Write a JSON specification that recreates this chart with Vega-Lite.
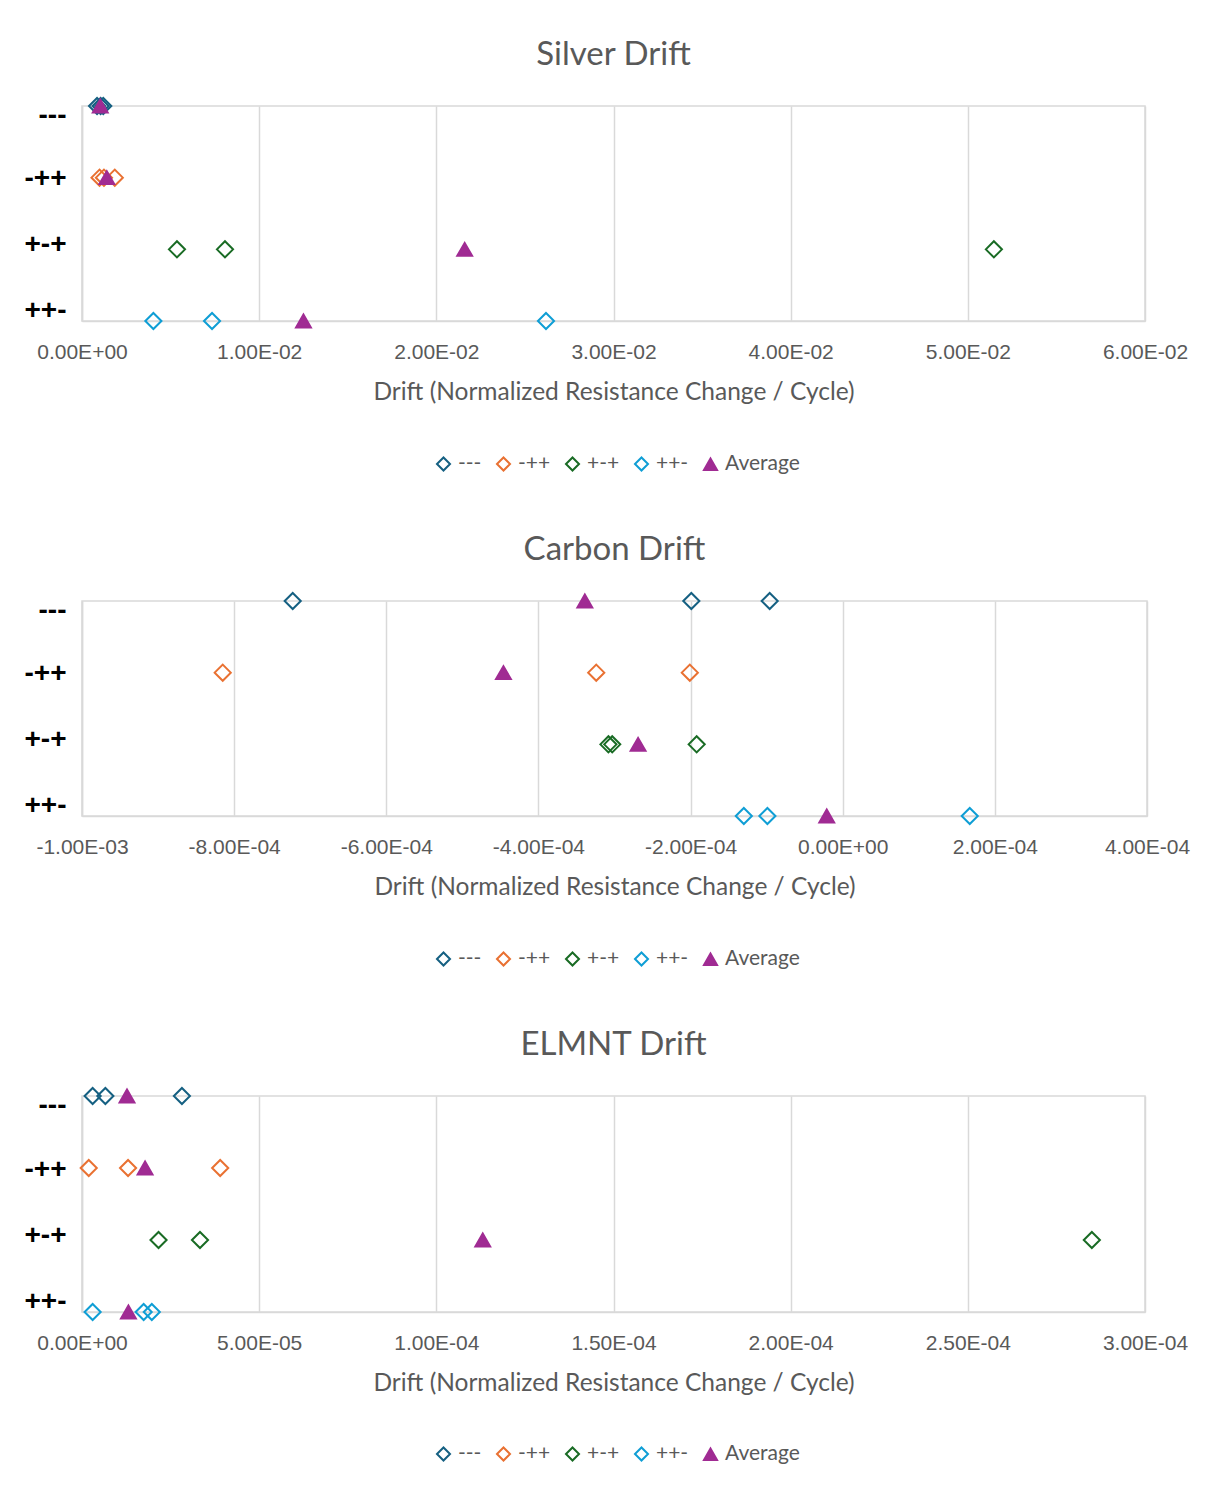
{
  "$schema": "https://vega.github.io/schema/vega-lite/v6.json",
  "background": "white",
  "padding": {"left": 23, "top": 38, "right": 10, "bottom": 10},
  "datasets": {
    "d": [
      {"p": "Silver", "s": "---", "r": "---", "v": 0.00085},
      {"p": "Silver", "s": "---", "r": "---", "v": 0.00105},
      {"p": "Silver", "s": "---", "r": "---", "v": 0.0012},
      {"p": "Silver", "s": "-++", "r": "-++", "v": 0.00099},
      {"p": "Silver", "s": "-++", "r": "-++", "v": 0.00124},
      {"p": "Silver", "s": "-++", "r": "-++", "v": 0.00185},
      {"p": "Silver", "s": "+-+", "r": "+-+", "v": 0.00536},
      {"p": "Silver", "s": "+-+", "r": "+-+", "v": 0.00807},
      {"p": "Silver", "s": "+-+", "r": "+-+", "v": 0.05147},
      {"p": "Silver", "s": "++-", "r": "++-", "v": 0.00403},
      {"p": "Silver", "s": "++-", "r": "++-", "v": 0.00734},
      {"p": "Silver", "s": "++-", "r": "++-", "v": 0.02619},
      {"p": "Silver", "s": "Average", "r": "---", "v": 0.00103},
      {"p": "Silver", "s": "Average", "r": "-++", "v": 0.0014},
      {"p": "Silver", "s": "Average", "r": "+-+", "v": 0.0216},
      {"p": "Silver", "s": "Average", "r": "++-", "v": 0.0125},
      {"p": "Carbon", "s": "---", "r": "---", "v": -0.000723},
      {"p": "Carbon", "s": "---", "r": "---", "v": -0.000199},
      {"p": "Carbon", "s": "---", "r": "---", "v": -0.000096},
      {"p": "Carbon", "s": "-++", "r": "-++", "v": -0.000815},
      {"p": "Carbon", "s": "-++", "r": "-++", "v": -0.000324},
      {"p": "Carbon", "s": "-++", "r": "-++", "v": -0.000201},
      {"p": "Carbon", "s": "+-+", "r": "+-+", "v": -0.000308},
      {"p": "Carbon", "s": "+-+", "r": "+-+", "v": -0.000303},
      {"p": "Carbon", "s": "+-+", "r": "+-+", "v": -0.000192},
      {"p": "Carbon", "s": "++-", "r": "++-", "v": -0.00013},
      {"p": "Carbon", "s": "++-", "r": "++-", "v": -0.000099},
      {"p": "Carbon", "s": "++-", "r": "++-", "v": 0.000167},
      {"p": "Carbon", "s": "Average", "r": "---", "v": -0.000339},
      {"p": "Carbon", "s": "Average", "r": "-++", "v": -0.000446},
      {"p": "Carbon", "s": "Average", "r": "+-+", "v": -0.000269},
      {"p": "Carbon", "s": "Average", "r": "++-", "v": -0.000021},
      {"p": "ELMNT", "s": "---", "r": "---", "v": 0.000003},
      {"p": "ELMNT", "s": "---", "r": "---", "v": 0.0000066},
      {"p": "ELMNT", "s": "---", "r": "---", "v": 0.0000282},
      {"p": "ELMNT", "s": "-++", "r": "-++", "v": 0.0000019},
      {"p": "ELMNT", "s": "-++", "r": "-++", "v": 0.000013},
      {"p": "ELMNT", "s": "-++", "r": "-++", "v": 0.000039},
      {"p": "ELMNT", "s": "+-+", "r": "+-+", "v": 0.0000216},
      {"p": "ELMNT", "s": "+-+", "r": "+-+", "v": 0.0000333},
      {"p": "ELMNT", "s": "+-+", "r": "+-+", "v": 0.000285},
      {"p": "ELMNT", "s": "++-", "r": "++-", "v": 0.000003},
      {"p": "ELMNT", "s": "++-", "r": "++-", "v": 0.0000174},
      {"p": "ELMNT", "s": "++-", "r": "++-", "v": 0.0000197},
      {"p": "ELMNT", "s": "Average", "r": "---", "v": 0.0000127},
      {"p": "ELMNT", "s": "Average", "r": "-++", "v": 0.0000178},
      {"p": "ELMNT", "s": "Average", "r": "+-+", "v": 0.0001131},
      {"p": "ELMNT", "s": "Average", "r": "++-", "v": 0.0000131}
    ]
  },
  "config": {
    "view": {"stroke": "#D9D9D9", "strokeWidth": 1.5},
    "title": {"font": "Lato", "fontSize": 33, "fontWeight": "normal", "color": "#595959", "anchor": "middle", "offset": 22},
    "axis": {
      "gridColor": "#D9D9D9", "gridWidth": 1.5, "domainColor": "#D9D9D9", "domainWidth": 1.5, "ticks": false,
      "labelColor": "#595959", "labelFont": "Liberation Sans", "labelFontSize": 21, "labelFlush": false, "labelOverlap": false, "labelBound": false,
      "titleFont": "Lato", "titleFontSize": 24.5, "titleFontWeight": "normal", "titleColor": "#595959"
    },
    "legend": {
      "orient": "none", "legendX": 351, "legendY": 347, "direction": "horizontal", "title": null,
      "labelFont": "Lato", "labelFontSize": 21, "labelColor": "#595959", "symbolSize": 170, "symbolStrokeWidth": 2,
      "columnPadding": 10, "labelOffset": 4, "padding": 0
    }
  },
  "spacing": 280,
  "bounds": "flush",
  "resolve": {"scale": {"x": "independent"}, "legend": {"stroke": "independent", "fill": "independent", "shape": "independent"}},
  "vconcat": [
    {
      "title": "Silver Drift",
      "data": {"name": "d"},
      "transform": [{"filter": "datum.p === 'Silver'"}],
      "width": 1063, "height": 215,
      "mark": {"type": "point", "strokeWidth": 2, "opacity": 1},
      "encoding": {
        "x": {"field": "v", "type": "quantitative", "scale": {"domain": [0, 0.06], "nice": false, "zero": false},
          "axis": {"values": [0, 0.01, 0.02, 0.03, 0.04, 0.05, 0.06], "title": "Drift (Normalized Resistance Change / Cycle)", "labelPadding": 20, "titlePadding": 18,
            "labelExpr": "(datum.value < 0 ? '-' : '') + replace(replace(format(abs(datum.value), '.2e'), 'e-', 'E-0'), 'e+', 'E+0')"}},
        "y": {"field": "r", "type": "nominal", "scale": {"type": "point", "padding": 0, "domain": ["---", "-++", "+-+", "++-"]},
          "axis": {"title": null, "labelColor": "black", "labelFontWeight": "bold", "labelFontSize": 28, "labelPadding": 16,
            "labelOffset": {"condition": [{"test": "datum.value === '---'", "value": 9}, {"test": "datum.value === '-++'", "value": 1}, {"test": "datum.value === '+-+'", "value": -5}], "value": -11}}},
        "stroke": {"field": "s", "type": "nominal", "scale": {"domain": ["---", "-++", "+-+", "++-", "Average"], "range": ["#156082", "#E97132", "#196B24", "#0F9ED5", "#A02B93"]}},
        "fill": {"field": "s", "type": "nominal", "scale": {"domain": ["---", "-++", "+-+", "++-", "Average"], "range": ["transparent", "transparent", "transparent", "transparent", "#A02B93"]}},
        "shape": {"field": "s", "type": "nominal", "scale": {"domain": ["---", "-++", "+-+", "++-", "Average"], "range": ["diamond", "diamond", "diamond", "diamond", "triangle-up"]}},
        "size": {"condition": {"test": "datum.s === 'Average'", "value": 220}, "value": 260}
      }
    },
    {
      "title": "Carbon Drift",
      "data": {"name": "d"},
      "transform": [{"filter": "datum.p === 'Carbon'"}],
      "width": 1065, "height": 215,
      "mark": {"type": "point", "strokeWidth": 2, "opacity": 1},
      "encoding": {
        "x": {"field": "v", "type": "quantitative", "scale": {"domain": [-0.001, 0.0004], "nice": false, "zero": false},
          "axis": {"values": [-0.001, -0.0008, -0.0006, -0.0004, -0.0002, 0, 0.0002, 0.0004], "title": "Drift (Normalized Resistance Change / Cycle)", "labelPadding": 20, "titlePadding": 18,
            "labelExpr": "(datum.value < 0 ? '-' : '') + replace(replace(format(abs(datum.value), '.2e'), 'e-', 'E-0'), 'e+', 'E+0')"}},
        "y": {"field": "r", "type": "nominal", "scale": {"type": "point", "padding": 0, "domain": ["---", "-++", "+-+", "++-"]},
          "axis": {"title": null, "labelColor": "black", "labelFontWeight": "bold", "labelFontSize": 28, "labelPadding": 16,
            "labelOffset": {"condition": [{"test": "datum.value === '---'", "value": 9}, {"test": "datum.value === '-++'", "value": 1}, {"test": "datum.value === '+-+'", "value": -5}], "value": -11}}},
        "stroke": {"field": "s", "type": "nominal", "scale": {"domain": ["---", "-++", "+-+", "++-", "Average"], "range": ["#156082", "#E97132", "#196B24", "#0F9ED5", "#A02B93"]}},
        "fill": {"field": "s", "type": "nominal", "scale": {"domain": ["---", "-++", "+-+", "++-", "Average"], "range": ["transparent", "transparent", "transparent", "transparent", "#A02B93"]}},
        "shape": {"field": "s", "type": "nominal", "scale": {"domain": ["---", "-++", "+-+", "++-", "Average"], "range": ["diamond", "diamond", "diamond", "diamond", "triangle-up"]}},
        "size": {"condition": {"test": "datum.s === 'Average'", "value": 220}, "value": 260}
      }
    },
    {
      "title": "ELMNT Drift",
      "data": {"name": "d"},
      "transform": [{"filter": "datum.p === 'ELMNT'"}],
      "width": 1063, "height": 216,
      "mark": {"type": "point", "strokeWidth": 2, "opacity": 1},
      "encoding": {
        "x": {"field": "v", "type": "quantitative", "scale": {"domain": [0, 0.0003], "nice": false, "zero": false},
          "axis": {"values": [0, 0.00005, 0.0001, 0.00015, 0.0002, 0.00025, 0.0003], "title": "Drift (Normalized Resistance Change / Cycle)", "labelPadding": 20, "titlePadding": 18,
            "labelExpr": "(datum.value < 0 ? '-' : '') + replace(replace(format(abs(datum.value), '.2e'), 'e-', 'E-0'), 'e+', 'E+0')"}},
        "y": {"field": "r", "type": "nominal", "scale": {"type": "point", "padding": 0, "domain": ["---", "-++", "+-+", "++-"]},
          "axis": {"title": null, "labelColor": "black", "labelFontWeight": "bold", "labelFontSize": 28, "labelPadding": 16,
            "labelOffset": {"condition": [{"test": "datum.value === '---'", "value": 9}, {"test": "datum.value === '-++'", "value": 1}, {"test": "datum.value === '+-+'", "value": -5}], "value": -11}}},
        "stroke": {"field": "s", "type": "nominal", "scale": {"domain": ["---", "-++", "+-+", "++-", "Average"], "range": ["#156082", "#E97132", "#196B24", "#0F9ED5", "#A02B93"]}},
        "fill": {"field": "s", "type": "nominal", "scale": {"domain": ["---", "-++", "+-+", "++-", "Average"], "range": ["transparent", "transparent", "transparent", "transparent", "#A02B93"]}},
        "shape": {"field": "s", "type": "nominal", "scale": {"domain": ["---", "-++", "+-+", "++-", "Average"], "range": ["diamond", "diamond", "diamond", "diamond", "triangle-up"]}},
        "size": {"condition": {"test": "datum.s === 'Average'", "value": 220}, "value": 260}
      }
    }
  ]
}
